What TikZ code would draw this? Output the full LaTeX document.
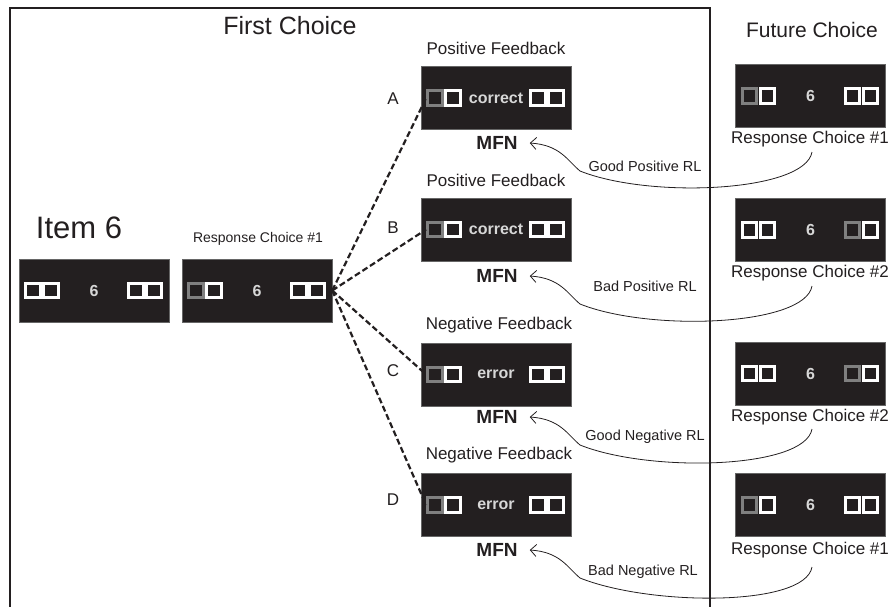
\documentclass[tikz,border=0pt]{standalone}
\usepackage{fontspec}
\setmainfont{Liberation Sans}
\usetikzlibrary{arrows.meta}
\definecolor{scr}{RGB}{35,31,32}
\definecolor{ink}{RGB}{35,31,32}
\definecolor{sqgray}{RGB}{128,128,128}
\definecolor{scrtext}{RGB}{215,215,215}
\newcommand\fs[1]{\fontsize{#1}{#1}\selectfont}
\begin{document}
\begin{tikzpicture}[x=1pt,y=-1pt,
  frame/.style={draw=ink, line width=2.6pt},
  scrbox/.style={fill=scr, draw=black!60, line width=0.5pt, minimum width=150pt, minimum height=63pt, inner sep=0pt},
  sq/.style={fill=scr, line width=3.3pt, minimum size=14.5pt, inner sep=0pt},
  scrtxt/.style={text=scrtext, font=\fs{16}\bfseries, inner sep=0pt},
  lab/.style={text=ink, inner sep=1pt},
  mfn/.style={text=ink, font=\fs{19}\bfseries, inner xsep=12pt},
  dashline/.style={draw=ink, line width=2.2pt, dash pattern=on 6pt off 3pt},
  rlcurve/.style={draw=ink, line width=0.8pt, -{Straight Barb[length=6pt,width=12pt]}},
  pics/screen/.style n args={5}{code={
    \node[scrbox] (-box) at (0,0) {};
    \node[sq,draw=#1] (-s1) at (-61,0) {};
    \node[sq,draw=#2] (-s2) at (-43,0) {};
    \node[scrtxt] (-t) at (0,0) {#3};
    \node[sq,draw=#4] (-s3) at (42,0) {};
    \node[sq,draw=#5] (-s4) at (60,0) {};
  }}
]
\useasboundingbox (0,0) rectangle (894,606);
% frame
\draw[frame] (10,610) -- (10,8) -- (710,8) -- (710,610);
% titles
\node[lab, font=\fs{25}] (first) at (290,26) {First Choice};
\node[lab, font=\fs{21}] (future) at (812,30) {Future Choice};
\node[lab, font=\fs{31}] (item) at (79,228) {Item 6};
\node[lab, font=\fs{14}] (rc1lab) at (258,239) {Response Choice \#1};
% screens
\pic (it) at (94,290.5) {screen={white}{white}{6}{white}{white}};
\pic (rc1) at (257,290.5) {screen={sqgray}{white}{6}{white}{white}};
\pic (A) at (496,98) {screen={sqgray}{white}{correct}{white}{white}};
\pic (B) at (496,229.5) {screen={sqgray}{white}{correct}{white}{white}};
\pic (C) at (496,374.5) {screen={sqgray}{white}{error}{white}{white}};
\pic (D) at (496,505) {screen={sqgray}{white}{error}{white}{white}};
\pic (R1) at (810.5,96) {screen={sqgray}{white}{6}{white}{white}};
\pic (R2) at (810.5,230) {screen={white}{white}{6}{sqgray}{white}};
\pic (R3) at (810.5,373.5) {screen={white}{white}{6}{sqgray}{white}};
\pic (R4) at (810.5,505) {screen={sqgray}{white}{6}{white}{white}};
% feedback labels
\node[lab, font=\fs{17}] (fbA) at (496,48) {Positive Feedback};
\node[lab, font=\fs{17}] (fbB) at (496,180) {Positive Feedback};
\node[lab, font=\fs{17}] (fbC) at (499,325) {Negative Feedback};
\node[lab, font=\fs{17}] (fbD) at (499,455) {Negative Feedback};
% letters
\node[lab, font=\fs{17}] (lA) at (393,99) {A};
\node[lab, font=\fs{17}] (lB) at (393,228) {B};
\node[lab, font=\fs{17}] (lC) at (393,371) {C};
\node[lab, font=\fs{17}] (lD) at (393,500) {D};
% MFN
\node[mfn] (mfnA) at (497,143) {MFN};
\node[mfn] (mfnB) at (497,276) {MFN};
\node[mfn] (mfnC) at (497,417) {MFN};
\node[mfn] (mfnD) at (497,550) {MFN};
% right labels
\node[lab, font=\fs{17}] (r1lab) at (810,139) {Response Choice \#1};
\node[lab, font=\fs{17}] (r2lab) at (810,273) {Response Choice \#2};
\node[lab, font=\fs{17}] (r3lab) at (810,417) {Response Choice \#2};
\node[lab, font=\fs{17}] (r4lab) at (810,550) {Response Choice \#1};
% RL labels
\node[lab, font=\fs{14.5}] (rlA) at (645,166) {Good Positive RL};
\node[lab, font=\fs{14.5}] (rlB) at (645,286) {Bad Positive RL};
\node[lab, font=\fs{14.5}] (rlC) at (645,437) {Good Negative RL};
\node[lab, font=\fs{14.5}] (rlD) at (643,572) {Bad Negative RL};
% dashed connectors
\foreach \n in {A,B,C,D}
  \draw[dashline] (rc1-box.east) -- (\n-s1.west);
% RL curves
\foreach \n/\s/\m in {A/152/143, B/286/276, C/429/417, D/567/550} {
  \coordinate (st\n) at (812,\s);
  \draw[rlcurve] (st\n) .. controls (805,\s+40) and (650,\m+56) .. (580,\m+28)
     .. controls (567,\m+17) and (560,\m+2) .. (mfn\n.east);
}
\end{tikzpicture}
\end{document}
